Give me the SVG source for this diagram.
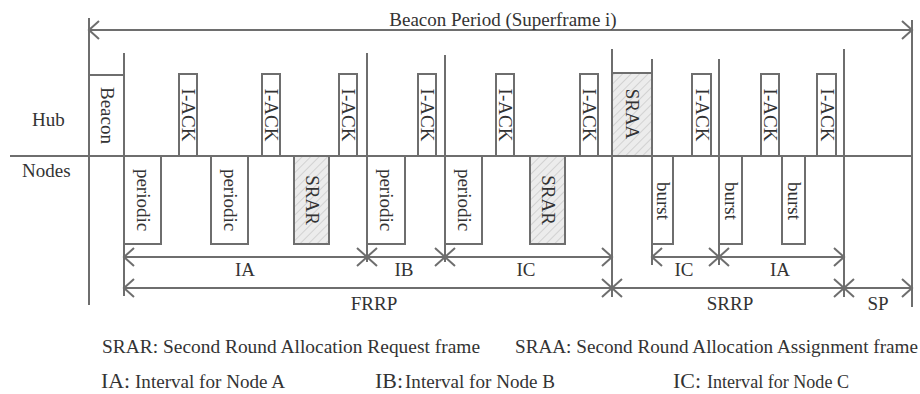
<svg xmlns="http://www.w3.org/2000/svg" width="920" height="394" viewBox="0 0 920 394">
<style>
.ln{stroke:#6e6e6e;stroke-width:2;fill:none}
.bx{stroke:#6e6e6e;stroke-width:2;fill:#fff}
.hx{stroke:#6e6e6e;stroke-width:2;fill:url(#hatch)}
.t{font-family:"Liberation Serif","Times New Roman",serif;font-size:19px;fill:#333}
.c{text-anchor:middle}
.ar{stroke:#6e6e6e;stroke-width:2;fill:none;marker-start:url(#chev);marker-end:url(#chev)}
.lg{font-size:19px}
.lk{font-size:22px}
.ls{font-size:18px}
</style>
<defs>
<pattern id="hatch" patternUnits="userSpaceOnUse" width="6" height="6" patternTransform="rotate(45)">
<rect width="6" height="6" fill="#ececec"/>
<line x1="0" y1="0" x2="0" y2="6" stroke="#d2d2d2" stroke-width="2"/>
</pattern>
<marker id="chev" markerUnits="userSpaceOnUse" markerWidth="24" markerHeight="24" viewBox="-12 -12 24 24" refX="0" refY="0" orient="auto-start-reverse">
<path d="M-10,-9 L0,0 L-10,9" stroke="#6e6e6e" stroke-width="2" fill="none"/>
</marker>
</defs>

<g id="axes">
<line class="ln" x1="10" y1="156" x2="912" y2="156"/>
<line class="ln" x1="89" y1="18" x2="89" y2="305"/>
<line class="ln" x1="124" y1="53" x2="124" y2="296"/>
<line class="ln" x1="367" y1="53" x2="367" y2="262"/>
<line class="ln" x1="445" y1="55" x2="445" y2="262"/>
<line class="ln" x1="612" y1="49" x2="612" y2="297"/>
<line class="ln" x1="652" y1="59" x2="652" y2="265"/>
<line class="ln" x1="719" y1="59" x2="719" y2="265"/>
<line class="ln" x1="844" y1="49" x2="844" y2="297"/>
<line class="ln" x1="912" y1="20" x2="912" y2="307"/>
<text class="t" x="32" y="126">Hub</text>
<text class="t" x="22" y="177">Nodes</text>
</g>

<g id="beacon">
<rect class="bx" x="89" y="75" width="35" height="81"/>
<text class="t c" transform="translate(106.5,115.5) rotate(90)" y="6">Beacon</text>
</g>
<g id="iack1"><rect class="bx" x="179" y="74" width="18" height="82"/><text class="t c" transform="translate(188,115) rotate(90)" y="6">I-ACK</text></g>
<g id="iack2"><rect class="bx" x="262" y="74" width="18" height="82"/><text class="t c" transform="translate(271,115) rotate(90)" y="6">I-ACK</text></g>
<g id="iack3"><rect class="bx" x="339" y="74" width="18" height="82"/><text class="t c" transform="translate(348,115) rotate(90)" y="6">I-ACK</text></g>
<g id="iack4"><rect class="bx" x="418" y="74" width="18" height="82"/><text class="t c" transform="translate(427,115) rotate(90)" y="6">I-ACK</text></g>
<g id="iack5"><rect class="bx" x="496" y="74" width="18" height="82"/><text class="t c" transform="translate(505,115) rotate(90)" y="6">I-ACK</text></g>
<g id="iack6"><rect class="bx" x="580" y="74" width="18" height="82"/><text class="t c" transform="translate(589,115) rotate(90)" y="6">I-ACK</text></g>
<g id="sraa"><rect class="hx" x="612" y="73" width="40" height="83"/><text class="t c" transform="translate(632,114) rotate(90)" y="6">SRAA</text></g>
<g id="iack7"><rect class="bx" x="692" y="74" width="19" height="82"/><text class="t c" transform="translate(701.5,115) rotate(90)" y="6">I-ACK</text></g>
<g id="iack8"><rect class="bx" x="761" y="74" width="18" height="82"/><text class="t c" transform="translate(770,115) rotate(90)" y="6">I-ACK</text></g>
<g id="iack9"><rect class="bx" x="817" y="74" width="19" height="82"/><text class="t c" transform="translate(826.5,115) rotate(90)" y="6">I-ACK</text></g>

<g id="periodic1"><rect class="bx" x="124" y="156" width="37" height="88"/><text class="t c" transform="translate(142.5,200) rotate(90)" y="6">periodic</text></g>
<g id="periodic2"><rect class="bx" x="211" y="156" width="37" height="88"/><text class="t c" transform="translate(229.5,200) rotate(90)" y="6">periodic</text></g>
<g id="srar1"><rect class="hx" x="294" y="156" width="35" height="88"/><text class="t c" transform="translate(311.5,200) rotate(90)" y="6">SRAR</text></g>
<g id="periodic3"><rect class="bx" x="367" y="156" width="38" height="88"/><text class="t c" transform="translate(386,200) rotate(90)" y="6">periodic</text></g>
<g id="periodic4"><rect class="bx" x="445" y="156" width="37" height="88"/><text class="t c" transform="translate(463.5,200) rotate(90)" y="6">periodic</text></g>
<g id="srar2"><rect class="hx" x="530" y="156" width="35" height="88"/><text class="t c" transform="translate(547.5,200) rotate(90)" y="6">SRAR</text></g>
<g id="burst1"><rect class="bx" x="652" y="156" width="21" height="88"/><text class="t c" transform="translate(662.5,201) rotate(90)" y="6">burst</text></g>
<g id="burst2"><rect class="bx" x="719" y="156" width="23" height="88"/><text class="t c" transform="translate(730.5,201) rotate(90)" y="6">burst</text></g>
<g id="burst3"><rect class="bx" x="782" y="156" width="23" height="88"/><text class="t c" transform="translate(793.5,201) rotate(90)" y="6">burst</text></g>

<g id="connectors">
<line class="ar" x1="89" y1="30" x2="912" y2="30"/>
<line class="ar" x1="124" y1="257" x2="367" y2="257"/>
<line class="ar" x1="367" y1="257" x2="445" y2="257"/>
<line class="ar" x1="445" y1="257" x2="612" y2="257"/>
<line class="ar" x1="652" y1="257" x2="719" y2="257"/>
<line class="ar" x1="719" y1="257" x2="844" y2="257"/>
<line class="ar" x1="124" y1="288" x2="612" y2="288"/>
<line class="ar" x1="612" y1="288" x2="844" y2="288"/>
<line class="ar" x1="844" y1="288" x2="912" y2="288"/>
</g>

<g id="labels">
<text class="t c" x="503" y="26">Beacon Period (Superframe i)</text>
<text class="t c" x="245" y="276">IA</text>
<text class="t c" x="404" y="276">IB</text>
<text class="t c" x="526" y="276">IC</text>
<text class="t c" x="684" y="276">IC</text>
<text class="t c" x="780" y="276">IA</text>
<text class="t c" x="374" y="310">FRRP</text>
<text class="t c" x="730" y="310">SRRP</text>
<text class="t c" x="878" y="310">SP</text>
</g>

<g id="legend">
<text class="t lg" x="102" y="353" textLength="378" lengthAdjust="spacingAndGlyphs">SRAR: Second Round Allocation Request frame</text>
<text class="t lg" x="515" y="353" textLength="403" lengthAdjust="spacingAndGlyphs">SRAA: Second Round Allocation Assignment frame</text>
<text class="t lk" x="101" y="388" textLength="29" lengthAdjust="spacingAndGlyphs">IA:</text>
<text class="t ls" x="135" y="388" textLength="150" lengthAdjust="spacingAndGlyphs">Interval for Node A</text>
<text class="t lk" x="375" y="388" textLength="28" lengthAdjust="spacingAndGlyphs">IB:</text>
<text class="t ls" x="405" y="388" textLength="150" lengthAdjust="spacingAndGlyphs">Interval for Node B</text>
<text class="t lk" x="673" y="388" textLength="28" lengthAdjust="spacingAndGlyphs">IC:</text>
<text class="t ls" x="707" y="388" textLength="142" lengthAdjust="spacingAndGlyphs">Interval for Node C</text>
</g>
</svg>
